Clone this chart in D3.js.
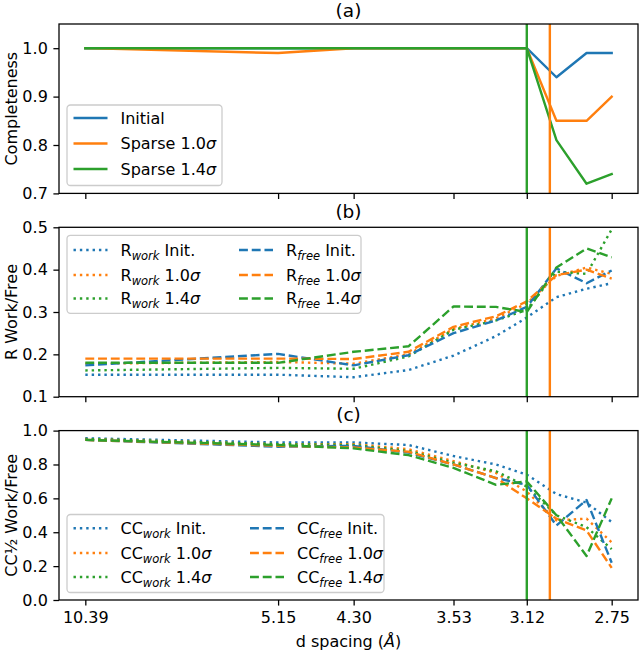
<!DOCTYPE html>
<html><head><meta charset="utf-8">
<script src="https://cdn.jsdelivr.net/npm/d3@7"></script>
<style>body{margin:0;background:#fff}svg{display:block}text{font-family:"DejaVu Sans",sans-serif;fill:#000}</style>
</head><body><svg id="c" width="640" height="653"></svg>
<script>
// ---------- data ----------
const dSpacing = [10.39, 5.15, 4.30, 3.84, 3.53, 3.28, 3.12, 2.98, 2.85, 2.75];
const tickD = [10.39, 5.15, 4.30, 3.53, 3.12, 2.75];
const tickLabels = ["10.39", "5.15", "4.30", "3.53", "3.12", "2.75"];
const cutoffD = [3.12, 3.01];            // vertical lines: Sparse 1.4σ, Sparse 1.0σ

const complInit = [1, 1, 1, 1, 1, 1, 1, 0.94, 0.99, 0.99];
const compl10   = [1, 0.99, 1, 1, 1, 1, 1, 0.85, 0.85, 0.90];
const compl14   = [1, 1, 1, 1, 1, 1, 1, 0.81, 0.72, 0.74];

const rWorkInit = [0.152, 0.152, 0.146, 0.163, 0.197, 0.243, 0.287, 0.335, 0.355, 0.368];
const rWork10   = [0.178, 0.182, 0.178, 0.200, 0.260, 0.285, 0.320, 0.385, 0.405, 0.390];
const rWork14   = [0.162, 0.168, 0.166, 0.195, 0.258, 0.280, 0.305, 0.395, 0.390, 0.495];
const rFreeInit = [0.174, 0.201, 0.174, 0.198, 0.250, 0.280, 0.312, 0.403, 0.368, 0.398];
const rFree10   = [0.190, 0.190, 0.189, 0.206, 0.265, 0.290, 0.325, 0.387, 0.400, 0.379];
const rFree14   = [0.180, 0.180, 0.206, 0.219, 0.313, 0.312, 0.300, 0.405, 0.450, 0.429];

const ccWorkInit = [0.955, 0.930, 0.930, 0.915, 0.850, 0.800, 0.740, 0.625, 0.575, 0.460];
const ccWork10   = [0.950, 0.920, 0.920, 0.890, 0.820, 0.750, 0.640, 0.470, 0.480, 0.340];
const ccWork14   = [0.950, 0.920, 0.915, 0.880, 0.810, 0.760, 0.670, 0.500, 0.430, 0.300];
const ccFreeInit = [0.945, 0.905, 0.910, 0.870, 0.800, 0.720, 0.680, 0.440, 0.590, 0.220];
const ccFree10   = [0.945, 0.910, 0.900, 0.875, 0.800, 0.720, 0.600, 0.480, 0.410, 0.190];
const ccFree14   = [0.945, 0.915, 0.895, 0.855, 0.780, 0.680, 0.700, 0.500, 0.260, 0.600];

const C = {blue:"#1f77b4", orange:"#ff7f0e", green:"#2ca02c"};

// ---------- layout ----------
const svg = d3.select("#c");
const L = 59, R = 638, PH = 169.4;
const tops = [24, 227.3, 430.6];
const FS = 16, LW = 2.4, SP = 1.28, TL = 5.6;
const DOT = "2.4,3.96", DASH = "8.9,3.84";

const lo = 1/10.39, hi = 1/2.75, pad = (hi-lo)*0.05;
const x = d3.scaleLinear().domain([lo-pad, hi+pad]).range([L, R]);

function rich(t, s){
  const parts = s.split(/(_\{[^}]*\}|σ)/).filter(p=>p.length);
  let shift = 0;
  parts.forEach(p=>{
    let sub = false, it = false, txt = p;
    if (p.startsWith("_{")) { sub = true; txt = p.slice(2,-1); }
    else if (p === "σ") it = true;
    const ts = t.append("tspan").text(txt);
    const target = sub ? 4 : 0;
    if (target !== shift) { ts.attr("dy", target - shift); shift = target; }
    if (sub) ts.attr("font-size", 11.5).attr("font-style","italic");
    if (it) ts.attr("font-style","italic");
  });
}

const panels = [
  { title:"(a)", ylabel:"Completeness", dom:[0.7,1.05], ticks:[0.7,0.8,0.9,1.0], titleY:16.5,
    series:[
      {v:complInit, c:C.blue, dash:null, lab:"Initial"},
      {v:compl10, c:C.orange, dash:null, lab:"Sparse 1.0σ"},
      {v:compl14, c:C.green, dash:null, lab:"Sparse 1.4σ"}],
    legend:{x:67, y:105, w:155, h:80.5, rows:[118,143.5,169], cols:[73.5], ncol:1} },
  { title:"(b)", ylabel:"R Work/Free", dom:[0.1,0.5], ticks:[0.1,0.2,0.3,0.4,0.5], titleY:217.8,
    series:[
      {v:rWorkInit, c:C.blue, dash:DOT, lab:"R_{work} Init."},
      {v:rWork10, c:C.orange, dash:DOT, lab:"R_{work} 1.0σ"},
      {v:rWork14, c:C.green, dash:DOT, lab:"R_{work} 1.4σ"},
      {v:rFreeInit, c:C.blue, dash:DASH, lab:"R_{free} Init."},
      {v:rFree10, c:C.orange, dash:DASH, lab:"R_{free} 1.0σ"},
      {v:rFree14, c:C.green, dash:DASH, lab:"R_{free} 1.4σ"}],
    legend:{x:67, y:235.3, w:294, h:78, rows:[250,275,298.5], cols:[73.5,239], ncol:2} },
  { title:"(c)", ylabel:"CC½ Work/Free", dom:[0,1], ticks:[0,0.2,0.4,0.6,0.8,1.0], titleY:421.2,
    series:[
      {v:ccWorkInit, c:C.blue, dash:DOT, lab:"CC_{work} Init."},
      {v:ccWork10, c:C.orange, dash:DOT, lab:"CC_{work} 1.0σ"},
      {v:ccWork14, c:C.green, dash:DOT, lab:"CC_{work} 1.4σ"},
      {v:ccFreeInit, c:C.blue, dash:DASH, lab:"CC_{free} Init."},
      {v:ccFree10, c:C.orange, dash:DASH, lab:"CC_{free} 1.0σ"},
      {v:ccFree14, c:C.green, dash:DASH, lab:"CC_{free} 1.4σ"}],
    legend:{x:67, y:514.5, w:317, h:78, rows:[528.3,553,577], cols:[73.5,250], ncol:2} }
];

panels.forEach((p, pi)=>{
  const top = tops[pi], bot = top + PH;
  const y = d3.scaleLinear().domain(p.dom).range([bot, top]);
  const g = svg.append("g");
  const cid = "clip"+pi;
  svg.append("defs").append("clipPath").attr("id", cid)
    .append("rect").attr("x", L).attr("y", top).attr("width", R-L).attr("height", PH);

  const line = d3.line().x((d,i)=>x(1/dSpacing[i])).y(d=>y(d));
  const lg = g.append("g").attr("clip-path", `url(#${cid})`);
  p.series.forEach(s=>{
    lg.append("path").attr("d", line(s.v)).attr("fill","none")
      .attr("stroke", s.c).attr("stroke-width", LW)
      .attr("stroke-dasharray", s.dash).attr("stroke-linejoin","round")
      .attr("stroke-linecap", s.dash ? "butt" : "square");
  });
  [[cutoffD[0], C.green],[cutoffD[1], C.orange]].forEach(([d,c])=>{
    lg.append("line").attr("x1", x(1/d)).attr("x2", x(1/d)).attr("y1", top).attr("y2", bot)
      .attr("stroke", c).attr("stroke-width", LW);
  });

  const ya = d3.axisLeft(y).tickValues(p.ticks).tickFormat(d3.format(".1f")).tickSize(TL).tickPadding(5.6);
  const yg = g.append("g").attr("transform", `translate(${L},0)`).call(ya);
  const xa = d3.axisBottom(x).tickValues(tickD.map(d=>1/d)).tickSize(TL).tickPadding(5.6)
    .tickFormat((d,i)=> pi===2 ? tickLabels[i] : "");
  const xg = g.append("g").attr("transform", `translate(0,${bot})`).call(xa);
  [yg, xg].forEach(a=>{
    a.select(".domain").remove();
    a.selectAll("line").attr("stroke","#000").attr("stroke-width", SP);
    a.selectAll("text").attr("font-size", FS).attr("font-family", '"DejaVu Sans",sans-serif').attr("fill","#000");
  });
  g.append("rect").attr("x", L).attr("y", top).attr("width", R-L).attr("height", PH)
    .attr("fill","none").attr("stroke","#000").attr("stroke-width", SP);

  g.append("text").attr("x", (L+R)/2).attr("y", p.titleY).attr("text-anchor","middle")
    .attr("font-size", 18.5).text(p.title);
  g.append("text").attr("transform", `translate(17,${top+PH/2}) rotate(-90)`)
    .attr("text-anchor","middle").attr("font-size", FS).text(p.ylabel);

  const lgd = p.legend;
  g.append("rect").attr("x", lgd.x).attr("y", lgd.y).attr("width", lgd.w).attr("height", lgd.h)
    .attr("rx", 3.5).attr("fill","#fff").attr("fill-opacity",0.8)
    .attr("stroke","#cccccc").attr("stroke-width", SP);
  p.series.forEach((s, i)=>{
    const col = lgd.ncol===1 ? 0 : Math.floor(i/3);
    const row = i % 3;
    const hx = lgd.cols[col], ry = lgd.rows[row];
    g.append("line").attr("x1", hx).attr("x2", hx+34).attr("y1", ry).attr("y2", ry)
      .attr("stroke", s.c).attr("stroke-width", LW).attr("stroke-dasharray", s.dash);
    const t = g.append("text").attr("x", hx+47).attr("y", ry+5.8).attr("font-size", FS);
    rich(t, s.lab);
  });
});

const xl = svg.append("text").attr("x", (L+R)/2).attr("y", 647).attr("text-anchor","middle").attr("font-size", FS);
xl.append("tspan").text("d spacing (");
xl.append("tspan").attr("font-style","italic").text("Å");
xl.append("tspan").text(")");
</script>
</body></html>
